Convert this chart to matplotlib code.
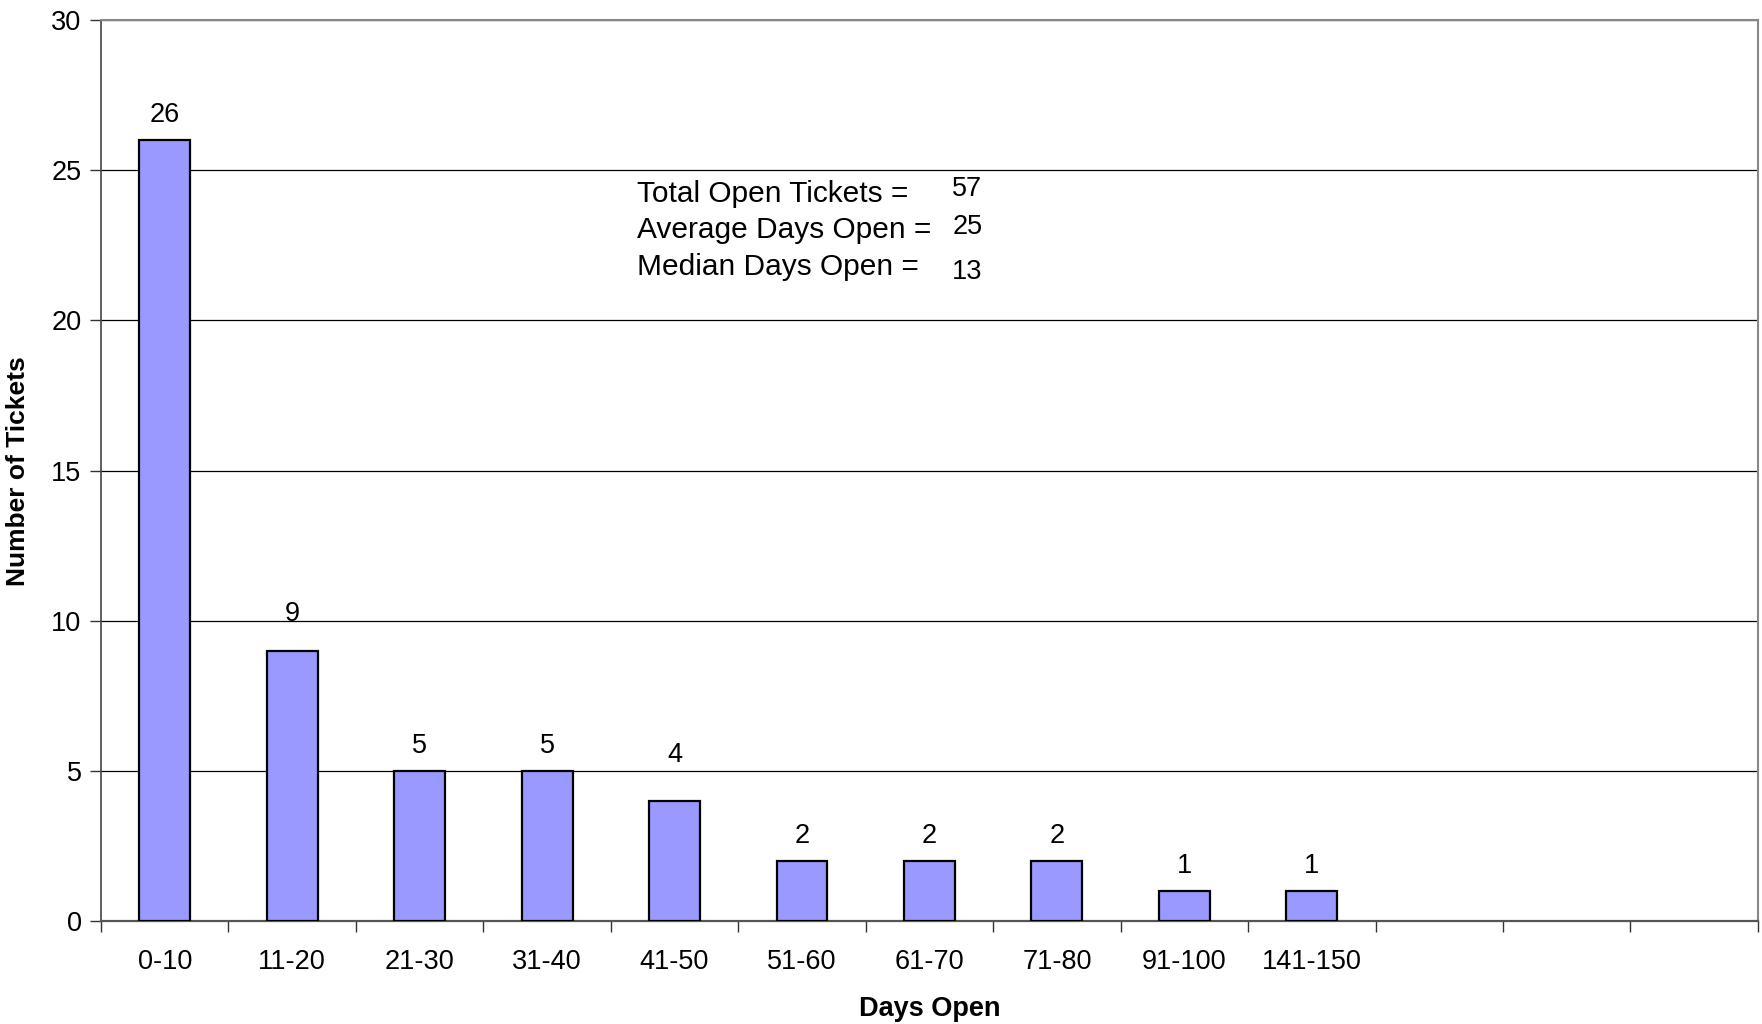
import numpy as np
import matplotlib.pyplot as plt

plt.rcParams['font.family'] = ['Liberation Sans', 'DejaVu Sans']

# histogram of open tickets
bins = ["0-10", "11-20", "21-30", "31-40", "41-50", "51-60",
        "61-70", "71-80", "91-100", "141-150", "", "", ""]
counts = [26, 9, 5, 5, 4, 2, 2, 2, 1, 1]

stat_labels = ["Total Open Tickets =", "Average Days Open =", "Median Days Open ="]
stat_values = ["57", "25", "13"]

fig = plt.figure(figsize=(17.62, 10.24), dpi=100)
ax = fig.add_axes([0.0573, 0.1001, 0.9404, 0.8804])

x = np.arange(len(counts))
bars = ax.bar(x, counts, width=0.4, color='#9999FF', edgecolor='black',
              linewidth=1.6, zorder=3)
# excel placed a couple of labels a bit higher
label_pad = [9, 17, 9, 9, 24, 9, 9, 9, 9, 9]
for xi, c, p in zip(x, counts, label_pad):
    ax.annotate(str(c), (xi, c), xytext=(0, p), textcoords='offset points',
                ha='center', va='bottom', fontsize=19.5)

ax.set_xlim(-0.5, len(bins) - 0.5)
ax.set_ylim(0, 30)
ax.set_yticks([0, 5, 10, 15, 20, 25, 30])
ax.yaxis.grid(True, color='black', linewidth=0.9, zorder=0)
ax.set_axisbelow(True)

ax.set_xticks(np.arange(len(bins)))
ax.set_xticklabels(bins)
ax.set_xticks(np.arange(len(bins) + 1) - 0.5, minor=True)
ax.tick_params(axis='x', which='major', length=0, pad=20, labelsize=19.5)
ax.tick_params(axis='x', which='minor', length=8, width=1, color='#333333')
ax.tick_params(axis='y', length=8, width=1, color='#333333', labelsize=19.5, pad=6)

for side in ['top', 'right']:
    ax.spines[side].set_color('#888888')
    ax.spines[side].set_linewidth(1.5)
ax.spines['left'].set_color('#444444')
ax.spines['left'].set_linewidth(1.2)
ax.spines['bottom'].set_color('#555555')
ax.spines['bottom'].set_linewidth(1.6)

ax.set_xlabel("Days Open", fontsize=19.5, fontweight='bold', labelpad=15)
ax.set_ylabel("Number of Tickets", fontsize=19, fontweight='bold', labelpad=15)

label_y = [0.811, 0.775, 0.739]
value_y = [0.815, 0.778, 0.734]
for lab, val, ly, vy in zip(stat_labels, stat_values, label_y, value_y):
    fig.text(0.3615, ly, lab, fontsize=21.5, va='center', ha='left')
    fig.text(0.5405, vy, val, fontsize=19.5, va='center', ha='left')

plt.savefig("out.png", dpi=100)
